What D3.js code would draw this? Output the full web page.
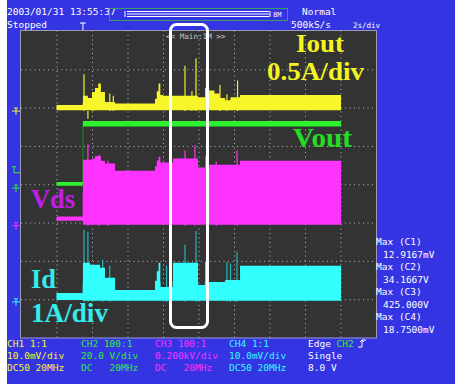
<!DOCTYPE html>
<html>
<head>
<meta charset="utf-8">
<script src="https://cdn.jsdelivr.net/npm/d3@7"></script>
<style>
  html, body { margin: 0; padding: 0; background: #fff; }
  svg { display: block; }
  .mono { font-family: "DejaVu Sans Mono", "Liberation Mono", monospace; font-size: 9.5px; }
  .big { font-family: "Liberation Serif", "Times New Roman", serif; font-weight: bold; font-size: 27px; }
</style>
</head>
<body>
<div id="scope"></div>
<script>
// time base: 2 s/div, 10 div across; 8 div vertical
const timeTicks = [0, 2, 4, 6, 8, 10, 12, 14, 16, 18, 20];
const divTicks = [-4, -3, -2, -1, 0, 1, 2, 3, 4];
const triggerTime = 3.49;
const traceEnd = 18.03;

// envelopes: [time s, low, high] in channel units, step-after
const ioutEnvelope = [
  [2.0, 0.01, 0.08], [3.49, 0.01, 0.20], [3.77, 0.01, 0.17], [4.0, 0.01, 0.25],
  [4.17, 0.01, 0.30], [4.35, 0.01, 0.36], [4.5, 0.01, 0.25], [4.73, 0.01, 0.12],
  [5.3, 0.01, 0.10], [7.55, 0.01, 0.16], [7.65, 0.01, 0.26], [7.75, 0.01, 0.36],
  [7.85, 0.01, 0.21], [8.0, 0.01, 0.20], [9.97, 0.01, 0.18], [10.37, 0.01, 0.30],
  [10.6, 0.01, 0.27], [10.9, 0.01, 0.23], [11.2, 0.01, 0.17], [11.5, 0.01, 0.14],
  [11.8, 0.01, 0.18], [12.34, 0.01, 0.21]
];
const ioutSpikes = [
  [3.55, 0.48], [3.77, -0.10], [4.05, 0.22], [5.0, 0.23], [5.2, 0.20], [9.24, 0.59],
  [9.63, 0.26], [9.86, 0.69], [10.45, 0.51], [11.21, 0.34], [11.6, 0.22], [12.2, 0.40]
];

const voutEnvelope = [[2.0, 1.2, 3.2], [3.49, 32.2, 35.0]];
const voutSpikes = [];

const vdsEnvelope = [
  [2.0, 26, 47], [3.49, 5, 344], [4.0, 5, 350], [4.17, 5, 362], [4.35, 5, 365],
  [4.5, 5, 339], [4.73, 5, 324], [5.3, 5, 287], [7.55, 5, 310], [7.65, 5, 340],
  [7.75, 5, 360], [7.85, 5, 329], [8.56, 5, 350], [9.97, 5, 303], [10.37, 5, 365],
  [10.59, 5, 318], [12.34, 5, 339]
];
const vdsSpikes = [[3.77, 425], [4.4, 368], [4.9, 340], [9.24, 392], [9.8, 420], [10.45, 372], [11.0, 335], [12.17, 392]];

const idEnvelope = [
  [2.0, 0.05, 0.23], [3.49, 0.03, 1.02], [3.89, 0.03, 0.97], [4.45, 0.03, 0.89],
  [4.73, 0.03, 0.63], [5.3, 0.03, 0.31], [7.55, 0.03, 0.55], [7.65, 0.03, 0.80],
  [7.75, 0.03, 1.02], [7.85, 0.03, 0.39], [8.56, 0.03, 1.02], [9.97, 0.03, 0.44],
  [10.37, 0.03, 1.04], [10.59, 0.03, 0.52], [11.5, 0.03, 0.57], [12.34, 0.03, 0.94]
];
const idSpikes = [[3.55, 1.88], [3.77, 1.83], [4.6, 1.1], [5.0, 0.95], [8.2, 0.94], [9.24, 1.49], [9.86, 1.85], [11.6, 1.04], [11.8, 1.0], [12.17, 1.31]];

// scope settings
const channelNames = ["Iout", "Vout", "Vds", "Id"];
const perDiv = [0.5, 20, 200, 1];
const groundDiv = [1.91, -0.10, -1.08, -3.07];

const setupRows = [
  ["CH1 1:1", "CH2 100:1", "CH3 100:1", "CH4 1:1"],
  ["10.0mV/div", "20.0 V/div", "0.200kV/div", "10.0mV/div"],
  ["DC50 20MHz", "DC   20MHz", "DC   20MHz", "DC50 20MHz"]
];
const maxLabels = ["Max (C1)", "Max (C2)", "Max (C3)", "Max (C4)"];
const maxValues = ["12.9167mV", "34.1667V", "425.000V", "18.7500mV"];

const W = 455, H = 384;
const plot = { left: 21, right: 376, top: 31, bottom: 337.5 };
const colors = ["#f6f62a", "#2ef02e", "#ff33ff", "#33ffff"];
const darks = ["#a6a61c", "#1f8f1f", "#b020b0", "#1a9a9a"];
const spikeColors = ["#f0f02a", "#2ef02e", "#ff33ff", "#22b8b8"];

const svg = d3.select("#scope").append("svg")
  .attr("width", W).attr("height", H);

svg.append("rect").attr("x", 7).attr("y", 0).attr("width", W - 7).attr("height", H).attr("fill", "#3434e2");

const x = d3.scaleLinear().domain([0, 20]).range([plot.left, plot.right]);
const y = d3.scaleLinear().domain([-4, 4]).range([plot.bottom, plot.top]);

svg.append("rect")
  .attr("x", plot.left).attr("y", plot.top)
  .attr("width", plot.right - plot.left).attr("height", plot.bottom - plot.top)
  .attr("fill", "#333333");

// grid
const grid = svg.append("g").attr("class", "grid");
grid.append("g")
  .attr("transform", `translate(0, ${plot.bottom})`)
  .call(d3.axisBottom(x).tickValues(timeTicks.slice(1, -1)).tickSize(-(plot.bottom - plot.top)).tickFormat(""));
grid.append("g")
  .attr("transform", `translate(${plot.left}, 0)`)
  .call(d3.axisLeft(y).tickValues(divTicks.slice(1, -1)).tickSize(-(plot.right - plot.left)).tickFormat(""));
grid.selectAll(".domain").remove();
grid.selectAll(".tick line")
  .attr("stroke", "#b8b8b8")
  .attr("stroke-dasharray", "1,3.5");

svg.append("text").attr("class", "mono")
  .attr("x", 166).attr("y", 38.5)
  .attr("fill", "#c8c8c8").style("font-size", "7.6px")
  .text("<< Main:1M >>");

// traces
const envelopes = [ioutEnvelope, voutEnvelope, vdsEnvelope, idEnvelope];
const spikes = [ioutSpikes, voutSpikes, vdsSpikes, idSpikes];

envelopes.forEach((env, i) => {
  const toY = (v) => y(groundDiv[i] + v / perDiv[i]);
  const pts = env.concat([[traceEnd, env[env.length - 1][1], env[env.length - 1][2]]]);
  const g = svg.append("g").attr("class", `trace ch${i + 1}`);

  // transitions (vertical edges) in a darker shade
  g.append("path")
    .datum(pts)
    .attr("d", d3.line().x((d) => x(d[0])).y((d) => toY((d[1] + d[2]) / 2)).curve(d3.curveStepAfter))
    .attr("fill", "none").attr("stroke", darks[i]).attr("stroke-width", 1);

  g.selectAll("line.spike")
    .data(spikes[i])
    .join("line")
    .attr("class", "spike")
    .attr("x1", (d) => x(d[0])).attr("x2", (d) => x(d[0]))
    .attr("y1", toY(0.0)).attr("y2", (d) => toY(d[1]))
    .attr("stroke", spikeColors[i]).attr("stroke-width", 1.2);

  g.append("path")
    .datum(pts)
    .attr("d", d3.area().x((d) => x(d[0])).y0((d) => toY(d[1])).y1((d) => toY(d[2])).curve(d3.curveStepAfter))
    .attr("fill", colors[i]);

  // ground marker on the left edge
  const gy = y(groundDiv[i]);
  svg.append("path")
    .attr("d", `M12,${gy} H20 M14,${gy - 3} H18 M16,${gy - 3} V${gy + 4}`)
    .attr("stroke", colors[i]).attr("stroke-width", 1).attr("fill", "none");
});

// trigger level marker (CH2, 8.0 V)
const ty = y(groundDiv[1] + 8.0 / perDiv[1]);
svg.append("path")
  .attr("d", `M12,${ty - 6} H16 M14,${ty - 6} V${ty} H20`)
  .attr("stroke", colors[1]).attr("fill", "none");

// trigger position marker
const tx = x(triggerTime);
svg.append("path")
  .attr("d", `M${tx - 3},23 H${tx + 3} M${tx},23 V30`)
  .attr("stroke", "#fff").attr("fill", "none");

// plot border
svg.append("rect")
  .attr("x", plot.left - 0.5).attr("y", plot.top - 0.5)
  .attr("width", plot.right - plot.left + 1).attr("height", plot.bottom - plot.top + 1)
  .attr("fill", "none").attr("stroke", "#9a9ab4");

// zoom window box
svg.append("rect")
  .attr("x", 170.5).attr("y", 24.5).attr("width", 37).attr("height", 303)
  .attr("rx", 6).attr("fill", "none").attr("stroke", "#fff").attr("stroke-width", 3);

// labels on the screen
const bigLabels = [
  { t: "Iout", x: 296, y: 51.5, w: 48, size: 25, c: "#f4f420" },
  { t: "0.5A/div", x: 267, y: 79.5, w: 97, size: 25, c: "#f4f420" },
  { t: "Vout", x: 293, y: 147, w: 59, size: 27, c: "#22dd22" },
  { t: "Vds", x: 31, y: 208, w: 44, size: 27, c: "#c21ee6" },
  { t: "Id", x: 31, y: 288, w: 25, size: 27, c: "#33ecec" },
  { t: "1A/div", x: 31, y: 322, w: 77, size: 27, c: "#33ecec" }
];
svg.selectAll("text.big")
  .data(bigLabels)
  .join("text")
  .attr("class", "big")
  .attr("x", (d) => d.x).attr("y", (d) => d.y)
  .attr("textLength", (d) => d.w).attr("lengthAdjust", "spacingAndGlyphs")
  .style("font-size", (d) => d.size + "px")
  .attr("fill", (d) => d.c)
  .text((d) => d.t);

// header
const header = svg.append("g").attr("class", "mono").attr("fill", "#fff");
header.append("text").attr("x", 7).attr("y", 15).text("2003/01/31 13:55:37");
header.append("text").attr("x", 7).attr("y", 28).text("Stopped");
header.append("text").attr("x", 302).attr("y", 15).text("Normal");
header.append("text").attr("x", 291).attr("y", 28).text("500kS/s");
header.append("text").attr("x", 353).attr("y", 28).style("font-size", "7.5px").text("2s/div");

svg.append("rect").attr("x", 109.5).attr("y", 8.5).attr("width", 178).attr("height", 12)
  .attr("fill", "none").attr("stroke", "#3aa060");
svg.append("path")
  .attr("d", "M125,11 V17 M127,11.5 H269 M127,14 H269 M127,16.5 H269 M270,11 V17")
  .attr("stroke", "#fff").attr("fill", "none").attr("stroke-width", 1);
svg.append("text").attr("class", "mono").attr("x", 273).attr("y", 17)
  .attr("fill", "#fff").style("font-size", "7px").text("8M");

// channel setup rows
const colX = [7, 81, 155, 229];
setupRows.forEach((row, r) => {
  svg.append("g").selectAll("text")
    .data(row)
    .join("text")
    .attr("class", "mono")
    .attr("x", (d, i) => colX[i]).attr("y", 347 + r * 12)
    .attr("fill", (d, i) => colors[i])
    .attr("xml:space", "preserve").style("white-space", "pre")
    .text((d) => d);
});
const edge = svg.append("text").attr("class", "mono").attr("x", 308).attr("y", 347).attr("fill", "#fff");
edge.append("tspan").text("Edge ");
edge.append("tspan").attr("fill", colors[1]).text("CH2");
svg.append("path").attr("d", "M358,347 H362 V340 H366 M360,342 L362,340 L364,342")
  .attr("stroke", "#fff").attr("fill", "none");
svg.append("text").attr("class", "mono").attr("x", 308).attr("y", 359).attr("fill", "#fff").text("Single");
svg.append("text").attr("class", "mono").attr("x", 308).attr("y", 371).attr("fill", "#fff").text("8.0 V");

// measurement readouts
maxLabels.forEach((m, i) => {
  svg.append("text").attr("class", "mono").attr("x", 376).attr("y", 245 + i * 25).attr("fill", "#fff").text(m);
  svg.append("text").attr("class", "mono").attr("x", 383).attr("y", 257.5 + i * 25).attr("fill", "#fff").text(maxValues[i]);
});
</script>
</body>
</html>
